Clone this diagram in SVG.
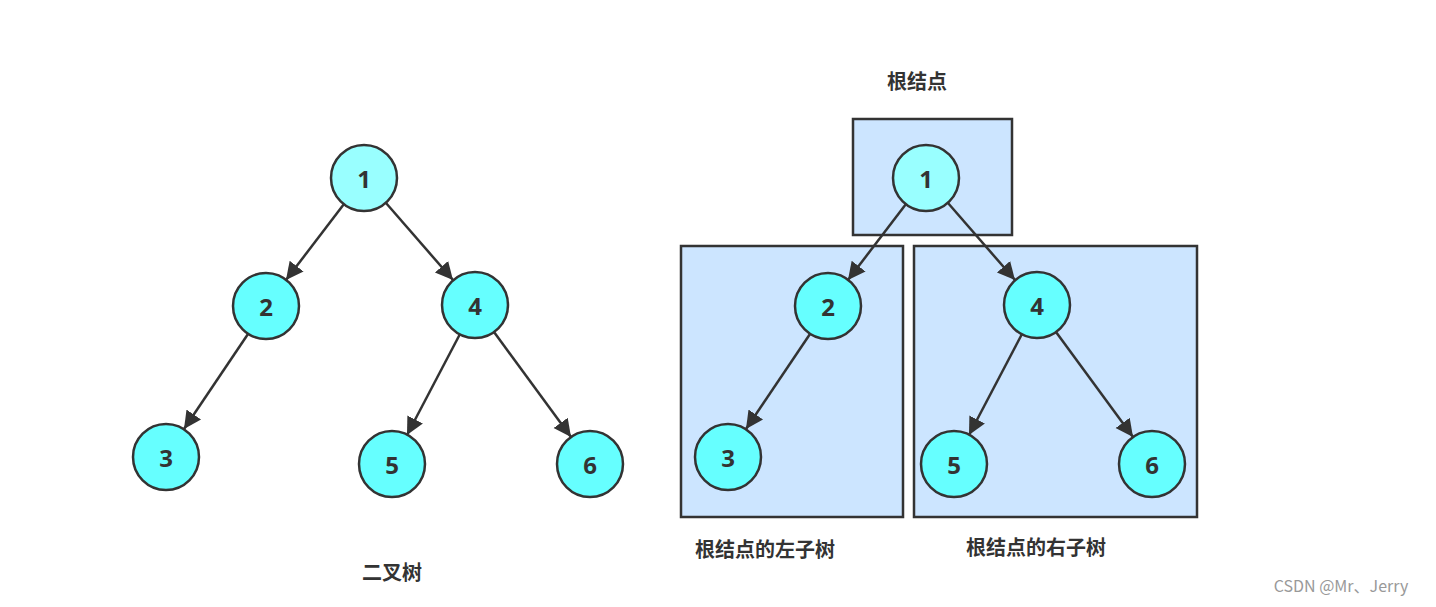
<svg xmlns="http://www.w3.org/2000/svg" width="1436" height="607" viewBox="0 0 1436 607">
<style>
.n{fill:#66ffff;stroke:#333;stroke-width:2.5}
.r{fill:#99ffff;stroke:#333;stroke-width:2.5}
.t{font-family:"Open Sans","Liberation Sans",sans-serif;font-weight:bold;font-size:24px;fill:#333;text-anchor:middle;dominant-baseline:central}
.l{font-family:"Noto Sans CJK SC",sans-serif;font-weight:bold;font-size:20px;fill:#333;text-anchor:middle}
.b{fill:#cce5ff;stroke:#333;stroke-width:2.5}
.e{stroke:#333;stroke-width:2.5;fill:none;marker-end:url(#a)}
</style>
<defs><marker id="a" markerWidth="8" markerHeight="8" refX="7" refY="4" orient="auto" markerUnits="strokeWidth"><path d="M0,0.5 L7,4 L0,7.5 Z" fill="#333"/></marker></defs>
<rect width="1436" height="607" fill="#fff"/>
<g id="boxes">
<rect class="b" x="853" y="119" width="159" height="116"/>
<rect class="b" x="681" y="246" width="222" height="271"/>
<rect class="b" x="914" y="246" width="283" height="271"/>
</g>
<g id="connectors">
<g id="edges-left">
<line class="e" x1="344" y1="204" x2="286" y2="280"/>
<line class="e" x1="386" y1="203" x2="453" y2="280"/>
<line class="e" x1="248" y1="334" x2="184" y2="429"/>
<line class="e" x1="460" y1="334" x2="407" y2="435"/>
<line class="e" x1="494" y1="332" x2="571" y2="437"/>
</g>
<g transform="translate(562,0)">
<line class="e" x1="344" y1="204" x2="286" y2="280"/>
<line class="e" x1="386" y1="203" x2="453" y2="280"/>
<line class="e" x1="248" y1="334" x2="184" y2="429"/>
<line class="e" x1="460" y1="334" x2="407" y2="435"/>
<line class="e" x1="494" y1="332" x2="571" y2="437"/>
</g>
</g>
<g id="L1"><circle class="r" cx="364" cy="178" r="33"/><text class="t" x="364" y="178">1</text></g>
<g id="L2"><circle class="n" cx="266" cy="306" r="33"/><text class="t" x="266" y="306">2</text></g>
<g id="L4"><circle class="n" cx="475" cy="305" r="33"/><text class="t" x="475" y="305">4</text></g>
<g id="L3"><circle class="n" cx="166" cy="457" r="33"/><text class="t" x="166" y="457">3</text></g>
<g id="L5"><circle class="n" cx="392" cy="464" r="33"/><text class="t" x="392" y="464">5</text></g>
<g id="L6"><circle class="n" cx="590" cy="464" r="33"/><text class="t" x="590" y="464">6</text></g>
<g id="R1"><circle class="r" cx="926" cy="178" r="33"/><text class="t" x="926" y="178">1</text></g>
<g id="R2"><circle class="n" cx="828" cy="306" r="33"/><text class="t" x="828" y="306">2</text></g>
<g id="R4"><circle class="n" cx="1037" cy="305" r="33"/><text class="t" x="1037" y="305">4</text></g>
<g id="R3"><circle class="n" cx="728" cy="457" r="33"/><text class="t" x="728" y="457">3</text></g>
<g id="R5"><circle class="n" cx="954" cy="464" r="33"/><text class="t" x="954" y="464">5</text></g>
<g id="R6"><circle class="n" cx="1152" cy="464" r="33"/><text class="t" x="1152" y="464">6</text></g>
<g id="labels">
<text class="l" x="917" y="89">根结点</text>
<text class="l" x="765" y="557">根结点的左子树</text>
<text class="l" x="1036" y="555">根结点的右子树</text>
<text class="l" x="392" y="580">二叉树</text>
<text x="1341" y="592" font-family="'Noto Sans CJK SC',sans-serif" font-size="16" fill="#999" text-anchor="middle">CSDN @Mr、Jerry</text>
</g>
</svg>
